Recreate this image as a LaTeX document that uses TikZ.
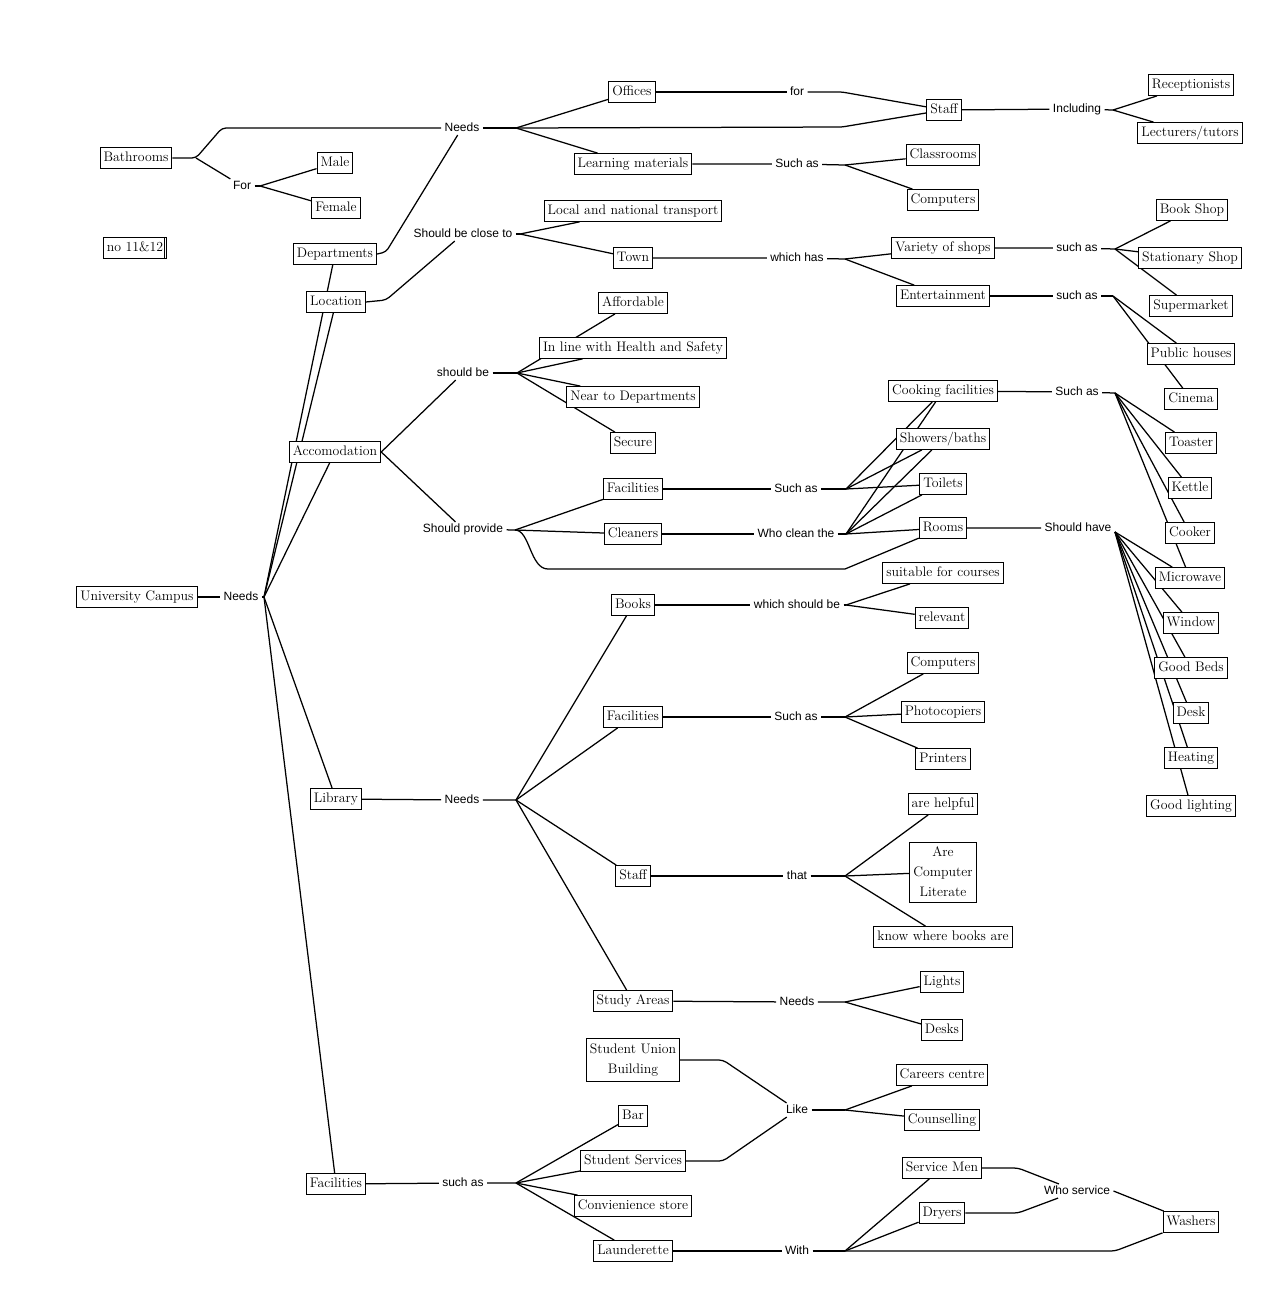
\documentclass[tikz,border=0pt]{standalone}
\usepackage{fontspec}
\setsansfont{Liberation Sans}
\usepackage{tikz}
\pgfdeclarelayer{bg}
\pgfsetlayers{bg,main}

\begin{document}
\begin{tikzpicture}[
    x=1pt, y=-1pt,
    line width=1pt,
    box/.style={draw, fill=white, font=\fontsize{13.8}{20}\selectfont, inner xsep=3.5pt, inner ysep=4pt, text height=9.8pt, text depth=3pt},
    mbox/.style={draw, fill=white, font=\fontsize{13.8}{20}\selectfont, align=center, inner xsep=3.5pt, inner ysep=5pt},
    lbl/.style={font=\sffamily\fontsize{12}{14}\selectfont, inner xsep=3pt, inner ysep=1pt, text height=8.6pt, text depth=2.5pt}
]
\useasboundingbox (0,0) rectangle (1284,1302);

% left column
\node[box] (bath) at (136,158) {Bathrooms};
\node[box] (male) at (335,163) {Male};
\node[box] (female) at (336,208) {Female};
\node[box] (note) at (135,248) {no 11\&12};
\draw ([xshift=-3pt]note.north east) -- ([xshift=-3pt]note.south east);
\node[box] (depts) at (335,254) {Departments};
\node[box] (loc) at (336,302) {Location};
\node[box] (accom) at (335,452) {Accomodation};
\node[box] (campus) at (137,597) {University Campus};
\node[box] (library) at (336,799) {Library};
\node[box] (fac) at (336,1184) {Facilities};

% middle column
\node[box] (offices) at (632,92) {Offices};
\node[box] (learn) at (633,164) {Learning materials};
\node[box] (transport) at (633,211) {Local and national transport};
\node[box] (town) at (633,258) {Town};
\node[box] (afford) at (633,303) {Affordable};
\node[box] (health) at (633,348) {In line with Health and Safety};
\node[box] (neardept) at (633,397) {Near to Departments};
\node[box] (secure) at (633,443) {Secure};
\node[box] (afac) at (633,489) {Facilities};
\node[box] (cleaners) at (633,534) {Cleaners};
\node[box] (books) at (633,605) {Books};
\node[box] (lfac) at (633,717) {Facilities};
\node[box] (lstaff) at (633,876) {Staff};
\node[box] (study) at (633,1001) {Study Areas};
\node[mbox] (union) at (633,1060) {Student Union\\Building};
\node[box] (bar) at (633,1116) {Bar};
\node[box] (services) at (633,1161) {Student Services};
\node[box] (conv) at (633,1206) {Convienience store};
\node[box] (laund) at (633,1251) {Launderette};

% third column
\node[box] (staff) at (944,110) {Staff};
\node[box] (classrooms) at (943,155) {Classrooms};
\node[box] (computersA) at (943,200) {Computers};
\node[box] (shops) at (943,248) {Variety of shops};
\node[box] (entertain) at (943,296) {Entertainment};
\node[box] (cooking) at (943,391) {Cooking facilities};
\node[box] (showers) at (943,439) {Showers/baths};
\node[box] (toilets) at (943,484) {Toilets};
\node[box] (rooms) at (943,528) {Rooms};
\node[box] (suitable) at (943,573) {suitable for courses};
\node[box] (relevant) at (942,618) {relevant};
\node[box] (computersB) at (943,663) {Computers};
\node[box] (photo) at (943,712) {Photocopiers};
\node[box] (printers) at (943,759) {Printers};
\node[box] (helpful) at (943,804) {are helpful};
\node[mbox] (literate) at (943,872) {Are\\Computer\\Literate};
\node[box] (knowbooks) at (943,937) {know where books are};
\node[box] (lights) at (942,982) {Lights};
\node[box] (desks) at (942,1030) {Desks};
\node[box] (careers) at (942,1075) {Careers centre};
\node[box] (counsel) at (942,1120) {Counselling};
\node[box] (servicemen) at (942,1168) {Service Men};
\node[box] (dryers) at (942,1213) {Dryers};

% right column
\node[box] (recep) at (1191,85) {Receptionists};
\node[box] (lecturers) at (1190,133) {Lecturers/tutors};
\node[box] (bookshop) at (1192,210) {Book Shop};
\node[box] (stationary) at (1190,258) {Stationary Shop};
\node[box] (supermarket) at (1191,306) {Supermarket};
\node[box] (pubs) at (1191,354) {Public houses};
\node[box] (cinema) at (1191,399) {Cinema};
\node[box] (toaster) at (1191,443) {Toaster};
\node[box] (kettle) at (1190,488) {Kettle};
\node[box] (cooker) at (1190,533) {Cooker};
\node[box] (microwave) at (1190,578) {Microwave};
\node[box] (window) at (1191,623) {Window};
\node[box] (beds) at (1191,668) {Good Beds};
\node[box] (desk) at (1191,713) {Desk};
\node[box] (heating) at (1191,758) {Heating};
\node[box] (lighting) at (1191,806) {Good lighting};
\node[box] (washers) at (1191,1222) {Washers};

% linking phrases
\node[lbl] (needsTop) at (462,128) {Needs};
\node[lbl] (for) at (242,186) {For};
\node[lbl] (close) at (463,234) {Should be close to};
\node[lbl] (shouldBe) at (463,373) {should be};
\node[lbl] (provide) at (463,529) {Should provide};
\node[lbl] (needs) at (241,597) {Needs};
\node[lbl] (libNeeds) at (462,800) {Needs};
\node[lbl] (suchFac) at (463,1183) {such as};
\node[lbl] (forStaff) at (797,92) {for};
\node[lbl] (suchLearn) at (797,164) {Such as};
\node[lbl] (whichHas) at (797,258) {which has};
\node[lbl] (suchAfac) at (796,489) {Such as};
\node[lbl] (whoClean) at (796,534) {Who clean the};
\node[lbl] (whichShould) at (797,605) {which should be};
\node[lbl] (suchLib) at (796,717) {Such as};
\node[lbl] (that) at (797,876) {that};
\node[lbl] (studyNeeds) at (797,1002) {Needs};
\node[lbl] (like) at (797,1110) {Like};
\node[lbl] (with) at (797,1251) {With};
\node[lbl] (incl) at (1077,109) {Including};
\node[lbl] (suchShops) at (1077,248) {such as};
\node[lbl] (suchEnt) at (1077,296) {such as};
\node[lbl] (suchCook) at (1077,392) {Such as};
\node[lbl] (shouldHave) at (1078,528) {Should have};
\node[lbl] (whoService) at (1077,1191) {Who service};

% fan points
\coordinate (bathF) at (196,158);
\coordinate (forF) at (260,186);
\coordinate (needsTopF) at (516,128);
\coordinate (closeF) at (520,234);
\coordinate (shouldBeF) at (517,373);
\coordinate (provideF) at (515,530);
\coordinate (needsF) at (264,597);
\coordinate (libNeedsF) at (516,800);
\coordinate (suchFacF) at (516,1183);
\coordinate (suchLearnF) at (845,165);
\coordinate (whichHasF) at (845,259);
\coordinate (suchAfacF) at (846,489);
\coordinate (whoCleanF) at (846,534);
\coordinate (whichShouldF) at (846,605);
\coordinate (suchLibF) at (845,717);
\coordinate (thatF) at (845,876);
\coordinate (studyNeedsF) at (845,1002);
\coordinate (likeF) at (845,1110);
\coordinate (withF) at (845,1251);
\coordinate (inclF) at (1113,110);
\coordinate (suchShopsF) at (1115,249);
\coordinate (suchEntF) at (1113,296);
\coordinate (suchCookF) at (1115,393);
\coordinate (shouldHaveF) at (1115,532);

\begin{pgfonlayer}{bg}
\fill[white] (0,0) rectangle (1284,1302);
\begin{scope}[line width=1.25pt]

% bathrooms and departments
\draw[rounded corners=4pt] (bath) -- (bathF) -- (222,128) -- (needsTop);
\draw (bathF) -- (for);
\draw (for) -- (forF);
\foreach \dest in {male,female} \draw (forF) -- (\dest);
\draw[rounded corners=4pt] (depts.east) -- (386,252) -- (needsTop);
\draw (needsTop) -- (needsTopF);
\draw (needsTopF) -- (offices);
\draw (needsTopF) -- (learn);
\draw[rounded corners=3pt] (needsTopF) -- (842,127) -- (staff);
\draw (offices) -- (forStaff);
\draw[rounded corners=3pt] (forStaff) -- (842,92) -- (staff);
\draw (staff) -- (incl) -- (inclF);
\foreach \dest in {recep,lecturers} \draw (inclF) -- (\dest);
\draw (learn) -- (suchLearn) -- (suchLearnF);
\foreach \dest in {classrooms,computersA} \draw (suchLearnF) -- (\dest);

% location
\draw[rounded corners=4pt] (loc.east) -- (386,300) -- (close);
\draw (close) -- (closeF);
\foreach \dest in {transport,town} \draw (closeF) -- (\dest);
\draw (town) -- (whichHas) -- (whichHasF);
\foreach \dest in {shops,entertain} \draw (whichHasF) -- (\dest);
\draw (shops) -- (suchShops) -- (suchShopsF);
\foreach \dest in {bookshop,stationary,supermarket} \draw (suchShopsF) -- (\dest);
\draw (entertain) -- (suchEnt) -- (suchEntF);
\foreach \dest in {pubs,cinema} \draw (suchEntF) -- (\dest);

% campus
\draw (campus) -- (needs) -- (needsF);
\foreach \dest in {depts,loc,accom,library,fac} \draw (needsF) -- (\dest);

% accomodation
\draw (accom.east) -- (shouldBe);
\draw (accom.east) -- (provide);
\draw (shouldBe) -- (shouldBeF);
\foreach \dest in {afford,health,neardept,secure} \draw (shouldBeF) -- (\dest);
\draw (provide) -- (provideF);
\foreach \dest in {afac,cleaners} \draw (provideF) -- (\dest);
\draw (provideF) .. controls (530,530) and (530,569) .. (548,569) -- (845,569) -- (rooms);
\draw (afac) -- (suchAfac) -- (suchAfacF);
\foreach \dest in {cooking,showers,toilets} \draw (suchAfacF) -- (\dest);
\draw (cleaners) -- (whoClean) -- (whoCleanF);
\foreach \dest in {cooking,showers,toilets,rooms} \draw (whoCleanF) -- (\dest);
\draw (cooking) -- (suchCook) -- (suchCookF);
\foreach \dest in {toaster,kettle,cooker,microwave} \draw (suchCookF) -- (\dest);
\draw (rooms) -- (shouldHave) -- (shouldHaveF);
\foreach \dest in {microwave,window,beds,desk,heating,lighting} \draw (shouldHaveF) -- (\dest);

% library
\draw (library) -- (libNeeds) -- (libNeedsF);
\foreach \dest in {books,lfac,lstaff,study} \draw (libNeedsF) -- (\dest);
\draw (books) -- (whichShould) -- (whichShouldF);
\foreach \dest in {suitable,relevant} \draw (whichShouldF) -- (\dest);
\draw (lfac) -- (suchLib) -- (suchLibF);
\foreach \dest in {computersB,photo,printers} \draw (suchLibF) -- (\dest);
\draw (lstaff) -- (that) -- (thatF);
\foreach \dest in {helpful,literate,knowbooks} \draw (thatF) -- (\dest);
\draw (study) -- (studyNeeds) -- (studyNeedsF);
\foreach \dest in {lights,desks} \draw (studyNeedsF) -- (\dest);

% facilities
\draw (fac) -- (suchFac) -- (suchFacF);
\foreach \dest in {bar,services,conv,laund} \draw (suchFacF) -- (\dest);
\draw[rounded corners=4pt] (union.east) -- (723,1060) -- (like);
\draw[rounded corners=4pt] (services.east) -- (723,1161) -- (like);
\draw (like) -- (likeF);
\foreach \dest in {careers,counsel} \draw (likeF) -- (\dest);
\draw (laund) -- (with) -- (withF);
\foreach \dest in {servicemen,dryers} \draw (withF) -- (\dest);
\draw[rounded corners=4pt] (withF) -- (1115,1251) -- (washers);
\draw[rounded corners=4pt] (servicemen.east) -- (1018,1168) -- (whoService);
\draw[rounded corners=4pt] (dryers.east) -- (1018,1213) -- (whoService);
\draw (whoService.east) -- (washers);
\end{scope}
\end{pgfonlayer}

\end{tikzpicture}
\end{document}
